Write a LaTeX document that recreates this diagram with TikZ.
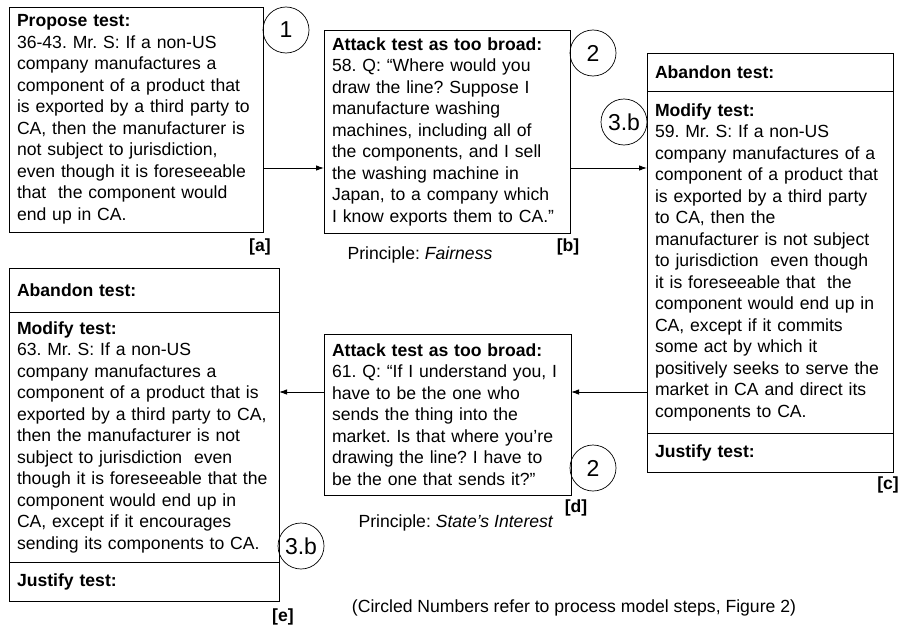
\documentclass[tikz,border=0pt]{standalone}
\usepackage{fontspec}
\setmainfont{Liberation Sans}
\frenchspacing
\usetikzlibrary{arrows.meta, calc, positioning}

\begin{document}
\begin{tikzpicture}[x=1pt,y=-1pt,inner sep=0pt,>={Latex[length=8pt,width=5.5pt]},%,>=stealth',->]
  box/.style={draw,line width=.9pt,outer sep=0pt,inner xsep=8pt,inner ysep=4pt,anchor=north west,align=left,font=\fontsize{17.6}{21.5}\selectfont},
  circ/.style={draw,circle,line width=.7pt,minimum size=46pt,inner sep=0pt,font=\fontsize{23}{23}\selectfont},
  lbl/.style={font=\fontsize{17.6}{21.5}\selectfont\bfseries},
  note/.style={font=\fontsize{17.6}{21.5}\selectfont}]
\useasboundingbox (0,0) rectangle (899,626);
\draw node [box,text width=238pt,minimum height=225pt] (A) at (9,7) {\textbf{Propose test:}\\36-43. Mr. S: If a non-US\\company manufactures a\\component of a product that\\is exported by a third party to\\CA, then the manufacturer is\\not subject to jurisdiction,\\even though it is foreseeable\\that~ the component would\\end up in CA.};
\draw node [box,text width=230pt,minimum height=203pt] (B) at (324,30) {\textbf{Attack test as too broad:}\\58. Q: “Where would you\\draw the line? Suppose I\\manufacture washing\\machines, including all of\\the components, and I sell\\the washing machine in\\Japan, to a company which\\I know exports them to CA.”};
\draw node [box,text width=230pt,minimum height=38pt] (C1) at (647,53) {\textbf{Abandon test:}};
\draw node [box,text width=230pt,minimum height=342pt] [below=0pt of C1] (C2) {\textbf{Modify test:}\\59. Mr. S: If a non-US\\company manufactures of a\\component of a product that\\is exported by a third party\\to CA, then the\\manufacturer is not subject\\to jurisdiction~ even though\\it is foreseeable that~ the\\component would end up in\\CA, except if it commits\\some act by which it\\positively seeks to serve the\\market in CA and direct its\\components to CA.};
\draw node [box,text width=230pt,minimum height=39pt] [below=0pt of C2] (C3) {\textbf{Justify test:}};
\draw node [box,text width=231pt,minimum height=161pt] (D) at (324,334) {\textbf{Attack test as too broad:}\\61. Q: “If I understand you, I\\have to be the one who\\sends the thing into the\\market. Is that where you're\\drawing the line? I have to\\be the one that sends it?”};
\draw node [box,text width=254pt,minimum height=44pt] (E1) at (9,268) {\textbf{Abandon test:}};
\draw node [box,text width=254pt,minimum height=250pt] [below=0pt of E1] (E2) {\textbf{Modify test:}\\63. Mr. S: If a non-US\\company manufactures a\\component of a product that is\\exported by a third party to CA,\\then the manufacturer is not\\subject to jurisdiction~ even\\though it is foreseeable that the\\component would end up in\\CA, except if it encourages\\sending its components to CA.};
\draw node [box,text width=254pt,minimum height=39pt] [below=0pt of E2] (E3) {\textbf{Justify test:}};
% step numbers
\draw node [circ] (S1) at ($ (A.north east) + (23,23) $) {1};
\draw node [circ] (S2) at ($ (B.north east) + (23,23) $) {2};
\draw node [circ] (S3) at ($ (C1.south west) + (-23,31) $) {3.b};
\draw node [circ] (S4) at ($ (D.south east) + (22,-27) $) {2};
\draw node [circ] (S5) at ($ (E2.south east) + (22,-16) $) {3.b};
% tags
\draw node [lbl] (LA) at (260,247) {[a]};
\draw node [lbl] (LB) at (568,247) {[b]};
\draw node [lbl] (LC) at (888,485) {[c]};
\draw node [lbl] (LD) at (576,508) {[d]};
\draw node [lbl] (LE) at (283,617) {[e]};
\draw node [note] (P1) at (420,255) {Principle: \textit{Fairness}};
\draw node [note] (P2) at (456,523) {Principle: \textit{State’s Interest}};
\draw node [note] (Key) at (574,608) {(Circled Numbers refer to process model steps, Figure 2)};
% moves
\coordinate (AB) at (0,168);
\coordinate (CD) at (0,392);
\draw [->,line width=.9pt] (A.east |- AB) -- (B.west |- AB);
\draw [->,line width=.9pt] (B.east |- AB) -- (C2.west |- AB);
\draw [->,line width=.9pt] (C2.west |- CD) -- (D.east |- CD);
\draw [->,line width=.9pt] (D.west |- CD) -- (E2.east |- CD);
\end{tikzpicture}
\end{document}
